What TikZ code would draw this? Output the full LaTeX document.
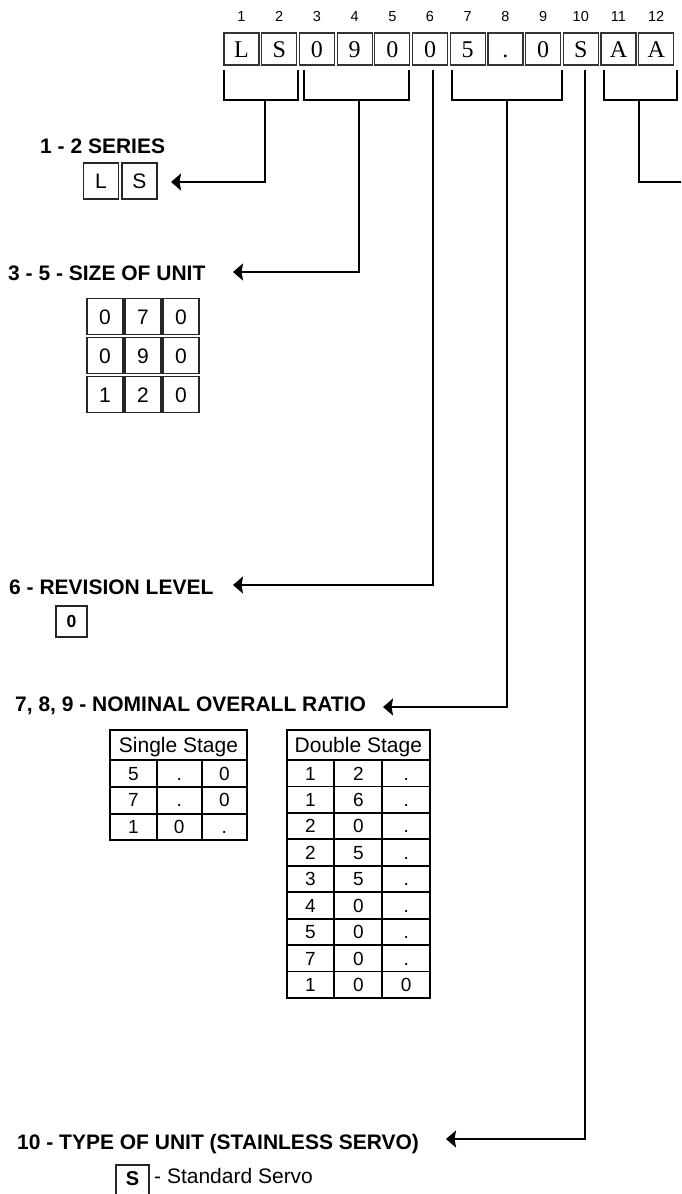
\documentclass[tikz,border=0pt]{standalone}
\usepackage{fontspec}
\setmainfont{Liberation Sans}
\newfontfamily\seriffam{Liberation Serif}
\usetikzlibrary{arrows.meta}
\begin{document}
\begin{tikzpicture}[x=1pt,y=-1pt,
  topbox/.style={draw=black!80, line width=1.2pt, minimum width=35pt, minimum height=32pt, inner sep=0pt,
    text height=16pt, text depth=0pt, font=\seriffam\fontsize{24}{24}\selectfont},
  numlbl/.style={inner sep=0pt, text height=10.4pt, text depth=0pt, font=\fontsize{14.5}{14.5}\selectfont},
  head/.style={anchor=west, inner sep=0pt, text height=15pt, text depth=0pt, font=\bfseries\fontsize{21}{21}\selectfont},
  digbox/.style={draw=black!85, line width=1.2pt, minimum width=36pt, minimum height=36pt, inner sep=0pt,
    text height=15pt, text depth=0pt, font=\fontsize{21}{21}\selectfont},
  cell/.style={draw, line width=1.8pt, inner sep=0pt, minimum height=26.5pt,
    text height=13.6pt, text depth=0pt, font=\fontsize{19}{19}\selectfont},
  hcell/.style={draw, line width=1.8pt, inner sep=0pt, minimum height=30pt,
    text height=15pt, text depth=0pt, font=\fontsize{21}{21}\selectfont},
  br/.style={line width=2pt},
  conn/.style={line width=2pt, -{Stealth[length=10pt,width=17pt,inset=1.5pt]}}
]
\useasboundingbox (0,0) rectangle (681,1194);
\clip (0,0) rectangle (681,1194);

% top code boxes
\foreach \i/\t in {1/L,2/S,3/0,4/9,5/0,6/0,7/5,8/.,9/0,10/S,11/A,12/A} {
  \node[topbox] (b\i) at ({241.5+37.7*(\i-1)},49) {\t};
  \node[numlbl] (n\i) at ({241.5+37.7*(\i-1)},16) {\i};
}

% bracket coordinates
\coordinate (k1l) at (224,70);  \coordinate (k1r) at (297.7,70); \coordinate (k1s) at (265,100);
\coordinate (k2l) at (304,70);  \coordinate (k2r) at (409,70);   \coordinate (k2s) at (359,100);
\coordinate (k3s) at (433,70);
\coordinate (k4l) at (451.7,70); \coordinate (k4r) at (561.7,70); \coordinate (k4s) at (507,100);
\coordinate (k5s) at (585,70);
\coordinate (k6l) at (604,70);  \coordinate (k6r) at (677,70);   \coordinate (k6s) at (639,100);

\draw[br] (k1l) |- (k1s) -| (k1r);
\draw[br] (k2l) |- (k2s) -| (k2r);
\draw[br] (k4l) |- (k4s) -| (k4r);
\draw[br] (k6l) |- (k6s) -| (k6r);

% arrow tips
\coordinate (t1) at (171,182);
\coordinate (t2) at (233,272);
\coordinate (t3) at (233,585);
\coordinate (t4) at (383,707);
\coordinate (t5) at (446,1139);
\coordinate (t6) at (695,182);

\draw[conn] (k1s) |- (t1);
\draw[conn] (k2s) |- (t2);
\draw[conn] (k3s) |- (t3);
\draw[conn] (k4s) |- (t4);
\draw[conn] (k5s) |- (t5);
\draw[br] (k6s) |- (t6);

% 1-2 series
\node[head] (h1) at (40,146) {1 - 2 SERIES};
\node[digbox, minimum width=35pt] (sL) at (101,181) {L};
\node[digbox, minimum width=35pt] (sS) at (139.5,181) {S};

% 3-5 size
\node[head] (h2) at (8,273) {3 - 5 - SIZE OF UNIT};
\foreach \r/\a/\b/\c in {1/0/7/0,2/0/9/0,3/1/2/0} {
  \node[digbox] (z\r a) at (105,{316.5+39*(\r-1)}) {\a};
  \node[digbox] (z\r b) at (143,{316.5+39*(\r-1)}) {\b};
  \node[digbox] (z\r c) at (181,{316.5+39*(\r-1)}) {\c};
}

% 6 revision
\node[head] (h3) at (9,587) {6 - REVISION LEVEL};
\node[draw=black!85, line width=1.2pt, minimum width=31pt, minimum height=31pt, inner sep=0pt,
  text height=12.6pt, text depth=0pt, font=\bfseries\fontsize{17.5}{17.5}\selectfont] (rev) at (71.5,621.5) {0};

% 7,8,9 ratio
\node[head] (h4) at (15,704) {7, 8, 9 - NOMINAL OVERALL RATIO};

% single stage table
\node[hcell, minimum width=137pt] (ssh) at (178.5,745) {Single Stage};
\foreach \r/\a/\b/\c in {1/5/./0,2/7/./0,3/1/0/.} {
  \node[cell, minimum width=46.7pt] (ss\r a) at (133.35,{773.5+26.67*(\r-1)}) {\a};
  \node[cell, minimum width=45pt]   (ss\r b) at (179.2,{773.5+26.67*(\r-1)}) {\b};
  \node[cell, minimum width=45.3pt] (ss\r c) at (224.35,{773.5+26.67*(\r-1)}) {\c};
}

% double stage table
\node[hcell, minimum width=143.3pt] (dsh) at (358.35,745) {Double Stage};
\foreach \r/\a/\b/\c in {1/1/2/.,2/1/6/.,3/2/0/.,4/2/5/.,5/3/5/.,6/4/0/.,7/5/0/.,8/7/0/.,9/1/0/0} {
  \node[cell, minimum width=47.6pt] (ds\r a) at (310.5,{773.2+26.44*(\r-1)}) {\a};
  \node[cell, minimum width=48pt]   (ds\r b) at (358.3,{773.2+26.44*(\r-1)}) {\b};
  \node[cell, minimum width=47.7pt] (ds\r c) at (406.15,{773.2+26.44*(\r-1)}) {\c};
}

% 10 type of unit
\node[head] (h5) at (17,1142) {10 - TYPE OF UNIT (STAINLESS SERVO)};
\node[draw=black!85, line width=1.2pt, minimum width=33pt, minimum height=32pt, inner sep=0pt,
  text height=14.3pt, text depth=6pt, font=\bfseries\fontsize{20}{20}\selectfont] (ts) at (132.5,1181) {S};
\node[anchor=west, inner sep=0pt, text height=15pt, text depth=0pt, font=\fontsize{21}{21}\selectfont] (tsd) at (154,1176) {- Standard Servo};
\end{tikzpicture}
\end{document}
